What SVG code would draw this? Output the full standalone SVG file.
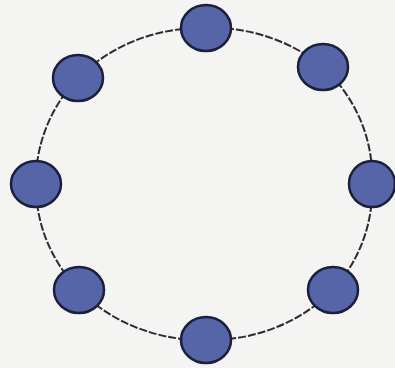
<svg xmlns="http://www.w3.org/2000/svg" width="395" height="368" viewBox="0 0 395 368">
<defs>
<style>
.link{fill:none;stroke:#2b2b30;stroke-width:2;stroke-dasharray:8 2;}
.node ellipse{fill:#5565a8;stroke:#1c1f3a;stroke-width:2.5;}
</style>
</defs>
<rect width="395" height="368" fill="#f4f4f3"/>
<g id="connectors">
<path class="link" d="M206,28 A168,156 0 0 1 323,67"/>
<path class="link" d="M323,67 A168,156 0 0 1 372,184"/>
<path class="link" d="M372,184 A168,156 0 0 1 333,290"/>
<path class="link" d="M333,290 A168,156 0 0 1 206,340"/>
<path class="link" d="M206,340 A168,156 0 0 1 79,290"/>
<path class="link" d="M79,290 A168,156 0 0 1 36,184"/>
<path class="link" d="M36,184 A168,156 0 0 1 78,78"/>
<path class="link" d="M78,78 A168,156 0 0 1 206,28"/>
</g>
<g id="node1" class="node"><ellipse cx="206" cy="28" rx="25" ry="23"/></g>
<g id="node2" class="node"><ellipse cx="323" cy="67" rx="25" ry="23"/></g>
<g id="node3" class="node"><ellipse cx="372" cy="184" rx="23" ry="23"/></g>
<g id="node4" class="node"><ellipse cx="333" cy="290" rx="25" ry="23"/></g>
<g id="node5" class="node"><ellipse cx="206" cy="340" rx="25" ry="23"/></g>
<g id="node6" class="node"><ellipse cx="79" cy="290" rx="25" ry="23"/></g>
<g id="node7" class="node"><ellipse cx="36" cy="184" rx="25" ry="23"/></g>
<g id="node8" class="node"><ellipse cx="78" cy="78" rx="25" ry="23"/></g>
</svg>
